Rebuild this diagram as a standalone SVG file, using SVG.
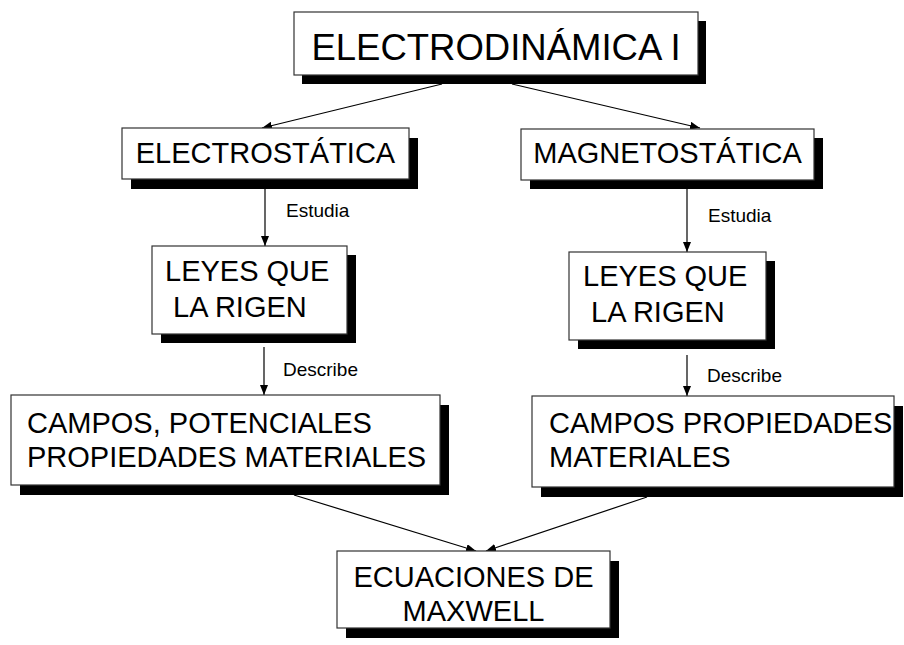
<svg xmlns="http://www.w3.org/2000/svg" width="904" height="645" viewBox="0 0 904 645">
<defs>
<style>
.box{fill:#fff;stroke:#333;stroke-width:1.2}
.sh{fill:#000}
.t{font-family:"Liberation Sans",Arial,sans-serif;font-size:29px;fill:#000}
.tt{font-family:"Liberation Sans",Arial,sans-serif;font-size:36.5px;fill:#000}
.lbl{font-family:"Liberation Sans",Arial,sans-serif;font-size:19px;fill:#000}
.c{stroke:#000;stroke-width:1.2;fill:none;marker-end:url(#ah)}
</style>
<marker id="ah" markerWidth="10" markerHeight="8" refX="10" refY="4" orient="auto" markerUnits="userSpaceOnUse">
<path d="M0,0 L10,4 L0,8 Z" fill="#000"/>
</marker>
</defs>
<rect width="904" height="645" fill="#fff"/>
<g id="connectors">
<line class="c" x1="442" y1="84" x2="262" y2="128"/>
<line class="c" x1="512" y1="84" x2="700" y2="128"/>
<line class="c" x1="265" y1="189" x2="265" y2="246"/>
<line class="c" x1="687" y1="189" x2="687" y2="252"/>
<line class="c" x1="264" y1="347" x2="264" y2="395"/>
<line class="c" x1="687" y1="355" x2="687" y2="396"/>
<line class="c" x1="294" y1="495" x2="476" y2="551"/>
<line class="c" x1="647" y1="497" x2="486" y2="551"/>
<text class="lbl" x="286" y="217">Estudia</text>
<text class="lbl" x="708" y="222">Estudia</text>
<text class="lbl" x="283" y="376">Describe</text>
<text class="lbl" x="707" y="382">Describe</text>
</g>
<g id="electrodinamica">
<rect class="sh" x="302" y="21" width="404" height="63"/>
<rect class="box" x="294" y="12" width="404" height="63"/>
<text class="tt" x="496" y="60" text-anchor="middle">ELECTRODINÁMICA I</text>
</g>
<g id="electrostatica">
<rect class="sh" x="131" y="138" width="287" height="51"/>
<rect class="box" x="122" y="128" width="287" height="51"/>
<text class="t" x="265.5" y="163" text-anchor="middle">ELECTROSTÁTICA</text>
</g>
<g id="magnetostatica">
<rect class="sh" x="530" y="138" width="293" height="51"/>
<rect class="box" x="521" y="129" width="293" height="51"/>
<text class="t" x="667.5" y="163" text-anchor="middle">MAGNETOSTÁTICA</text>
</g>
<g id="leyes-izq">
<rect class="sh" x="161" y="255" width="195" height="88"/>
<rect class="box" x="152" y="246" width="195" height="88"/>
<text class="t" x="165" y="281">LEYES QUE</text>
<text class="t" x="173" y="317">LA RIGEN</text>
</g>
<g id="leyes-der">
<rect class="sh" x="578" y="261" width="197" height="88"/>
<rect class="box" x="569" y="252" width="197" height="88"/>
<text class="t" x="583" y="286">LEYES QUE</text>
<text class="t" x="591" y="322">LA RIGEN</text>
</g>
<g id="campos-izq">
<rect class="sh" x="20" y="405" width="429" height="90"/>
<rect class="box" x="11" y="395" width="429" height="90"/>
<text class="t" x="27" y="433">CAMPOS, POTENCIALES</text>
<text class="t" x="27" y="467">PROPIEDADES MATERIALES</text>
</g>
<g id="campos-der">
<rect class="sh" x="541" y="406" width="362" height="91"/>
<rect class="box" x="532" y="396" width="362" height="91"/>
<text class="t" x="549" y="433">CAMPOS PROPIEDADES</text>
<text class="t" x="549" y="467">MATERIALES</text>
</g>
<g id="ecuaciones">
<rect class="sh" x="346" y="561" width="273" height="77"/>
<rect class="box" x="337" y="551" width="273" height="77"/>
<text class="t" x="473.5" y="587" text-anchor="middle">ECUACIONES DE</text>
<text class="t" x="473.5" y="621" text-anchor="middle">MAXWELL</text>
</g>
</svg>
